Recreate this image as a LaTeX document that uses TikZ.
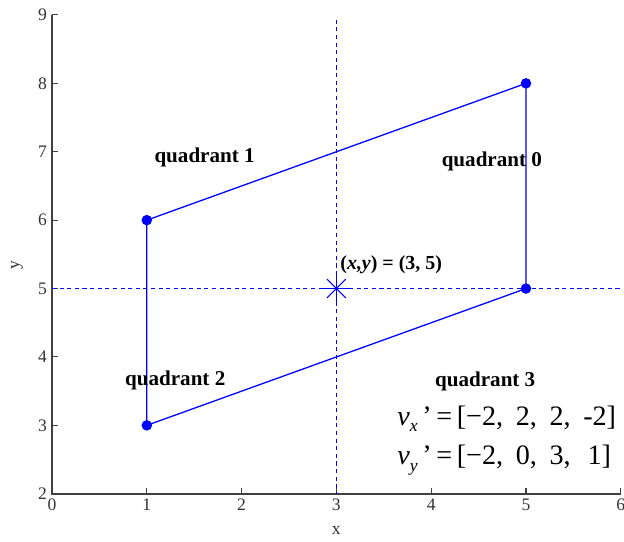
\documentclass[tikz,border=0pt]{standalone}
\usepackage{fontspec}
\setmainfont{Liberation Serif}
\begin{document}
\begin{tikzpicture}[x=2.844cm,y=2.052cm,
  axisline/.style={draw=black!75,line width=1.3pt},
  ticklab/.style={font=\fontsize{15}{17}\selectfont,text=black!80,inner sep=1pt},
  quadlab/.style={font=\fontsize{18}{20}\selectfont\bfseries,inner sep=0pt},
  guide/.style={draw=blue,line width=1pt,dash pattern=on 3.5pt off 3pt},
  edge/.style={draw=blue,line width=1.1pt},
  vert/.style={circle,fill=blue,inner sep=0pt,minimum size=9pt},
  formula/.style={font=\fontsize{24}{28}\selectfont,inner sep=0pt,anchor=west}]
\useasboundingbox (-0.5485,1.298) rectangle (6.034,9.219);
% axes
\draw[axisline] (0,9) -- (0,2) -- (6,2);
\foreach \yy in {2,...,9} {
  \draw[axisline,line width=0.9pt] (0,\yy) -- ++(0.065,0);
  \node[ticklab,anchor=east] (yt\yy) at (-0.04,\yy) {\yy};
}
\foreach \xx in {0,...,6} {
  \draw[axisline,line width=0.9pt] (\xx,2) -- ++(0,0.09);
  \node[ticklab,anchor=north] (xt\xx) at (\xx,1.95) {\xx};
}
\node[ticklab] (xlab) at (3,1.47) {x};
\node[ticklab,rotate=90] (ylab) at (-0.37,5.35) {y};
% guides
\coordinate (gvt) at (3,8.93);
\coordinate (gvb) at (3,2);
\coordinate (ghl) at (0,5);
\coordinate (ghr) at (6.02,5);
\draw[guide] (gvt) -- (gvb);
\draw[guide] (ghl) -- (ghr);
% parallelogram
\coordinate (p1) at (1,6);
\coordinate (p2) at (5,8);
\coordinate (p3) at (5,5);
\coordinate (p4) at (1,3);
\draw[edge] (p1) -- (p2) -- (p3) -- (p4) -- cycle;
\foreach \p in {p1,p2,p3,p4} \node[vert] at (\p) {};
% star marker
\coordinate (c) at (3,5);
\foreach \a in {0,45,...,315} \draw[blue,line width=0.9pt] (c) -- ++(\a:0.4cm);
\node[font=\fontsize{17}{20}\selectfont\bfseries,anchor=west,inner sep=0pt] (clab) at (3.04,5.35) {(\textit{x,y}) = (3, 5)};
% labels
\node[quadlab] (q1) at (1.61,6.91) {quadrant 1};
\node[quadlab] (q0) at (4.64,6.86) {quadrant 0};
\node[quadlab] (q2) at (1.3,3.65) {quadrant 2};
\node[quadlab] (q3) at (4.57,3.64) {quadrant 3};
\node[formula] (vx) at (3.64,3.1) {\textit{v}\raisebox{-0.5ex}{\fontsize{15}{17}\selectfont\textit{x}}\,'\,=\,[−2,\hspace{0.45em}2,\hspace{0.45em}2,\hspace{0.45em}-2]};
\node[formula] (vy) at (3.64,2.49) {\textit{v}\raisebox{-0.5ex}{\fontsize{15}{17}\selectfont\textit{y}}\,'\,=\,[−2,\hspace{0.45em}0,\hspace{0.45em}3,\hspace{0.6em}1]};
\end{tikzpicture}
\end{document}
